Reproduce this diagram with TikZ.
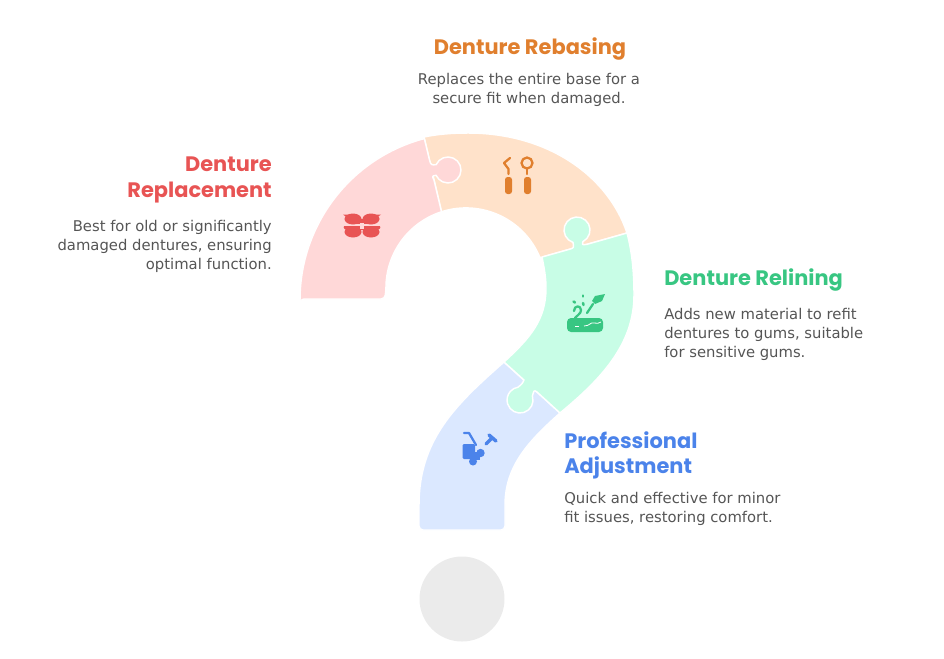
\documentclass[tikz,border=0pt]{standalone}
\usepackage{fontspec}
\setmainfont{DejaVu Sans}
\newfontfamily\headfont{Poppins}
\definecolor{pinkfill}{HTML}{FFD8D8}
\definecolor{orangefill}{HTML}{FFE2CA}
\definecolor{greenfill}{HTML}{C8FDE6}
\definecolor{bluefill}{HTML}{DBE8FF}
\definecolor{greyfill}{HTML}{EBEBEB}
\definecolor{redink}{HTML}{E85454}
\definecolor{orangeink}{HTML}{E07F2E}
\definecolor{greenink}{HTML}{38C682}
\definecolor{blueink}{HTML}{4B83EA}
\definecolor{bodyink}{HTML}{555555}
\tikzset{
  piece/.style={draw=white,line width=1.1pt,line join=round},
  heading/.style={font=\headfont\bfseries\fontsize{15.7}{18.8}\selectfont,inner sep=0pt},
  bodytext/.style={font=\fontsize{11.1}{14.2}\selectfont,text=bodyink,inner sep=0pt},
  toolstroke/.style={line width=1.7pt,line cap=round,line join=round}
}
\begin{document}
\begin{tikzpicture}[x=0.75pt,y=-0.75pt]
  \useasboundingbox (0,0) rectangle (944,658);

  % puzzle pieces
  \fill[orangefill,piece] (424,137) .. controls (438,134) and (453,133) .. (468,133)
    .. controls (550,133) and (609,178) .. (627,233) -- (540,257.7)
    arc (-22.2:-107.8:80) -- cycle;
  \fill[bluefill,piece] (504,362) -- (560,413) .. controls (530,440) and (505,465) .. (505,505)
    [rounded corners=3] -- (505,530) -- (419,530) [sharp corners] -- (419,505)
    .. controls (419,440) and (455,405) .. (504,362);
  \fill[pinkfill,piece] (300,300) arc (180:255.2:167) -- (429.5,160)
    .. controls (431,165) .. (436.1,164.7) arc (204:516:13)
    .. controls (432,176) .. (434,180) -- (441.5,211.8) arc (252.2:180:80)
    [rounded corners=3] -- (385,299) -- (300,299) [sharp corners] -- cycle;
  \fill[greenfill,piece] (542,257) -- (569,249.4) .. controls (574,248) .. (573,242.4)
    arc (108:423:13) .. controls (582,245) .. (587,244.3) -- (627,233)
    .. controls (632,252) and (634,272) .. (634,295)
    .. controls (634,345) and (600,380) .. (560,413) -- (537,392)
    .. controls (534,390) .. (532.4,396) arc (-18:261:13)
    .. controls (522,384) .. (524,380) -- (504,362)
    .. controls (530,338) and (546,320) .. (546,288)
    .. controls (546,277) and (544,267) .. (542,257);
  \fill[greyfill] (462,599) circle (42.5);

  % icons
  \begin{scope}[redink]
    \fill (353,219) ellipse (8.5 and 5.5);
    \fill (371,219) ellipse (8.5 and 5.5);
    \fill (353,219) rectangle (371,224);
    \fill (343,214.5) -- (352,214.5) -- (350,220) -- cycle;
    \fill (381,214.5) -- (372,214.5) -- (374,220) -- cycle;
    \fill[rounded corners=1] (343,226) -- (381,226) -- (379,230) -- (345,230) -- cycle;
    \fill (353,232) ellipse (8.5 and 5.5);
    \fill (371,232) ellipse (8.5 and 5.5);
    \fill[pinkfill] (360,223) rectangle (364,229);
  \end{scope}
  \begin{scope}[orangeink]
    \fill[rounded corners=2] (505,177) rectangle (512,194);
    \fill[rounded corners=2] (524,177) rectangle (531,194);
    \draw[toolstroke] (510,158) -- (504,163) -- (508.5,169) -- (508.5,174);
    \draw[toolstroke] (527,163) circle (5.5);
    \draw[toolstroke] (527,169) -- (527,174);
  \end{scope}
  \begin{scope}[greenink]
    \fill[rounded corners=3] (567,318) rectangle (603,332);
    \fill (595,296) -- (605,294) -- (602,301) -- (595,304) -- (592,301) -- cycle;
    \draw[toolstroke] (593,304) -- (587,313);
    \draw[toolstroke] (574,311) .. controls (574,305) and (581,305) .. (581,310) .. controls (581,314) and (577,315) .. (575,318);
    \draw[toolstroke,line width=1.9pt] (573.5,301.5) -- (575,302.5);
    \draw[toolstroke,line width=1.9pt] (583,295.5) -- (583,296.5);
    \draw[toolstroke,line width=1.9pt] (583,303) -- (583.5,305);
    \draw[white,line width=0.6pt] (575,326) -- (579,326);
    \draw[white,line width=0.6pt] (584,326) .. controls (590,326) and (590,322) .. (594,323) .. controls (597,324) and (599,323) .. (601,322);
  \end{scope}
  \begin{scope}[blueink]
    \draw[toolstroke] (464,433) -- (469,433) -- (476,445);
    \fill[rounded corners=1] (462.5,444) -- (475,444) -- (475,459) -- (462.5,459) -- cycle;
    \fill (480.5,453) circle (4.2);
    \fill (473,461.5) circle (4);
    \fill (473,452) rectangle (480,460);
    \draw[toolstroke,line width=2.6pt] (489,435) -- (496,441);
    \draw[toolstroke,line width=2.6pt] (492,438) -- (486,444);
  \end{scope}

  % labels
  \node[heading,text=orangeink,anchor=north] (rebasinghead) at (530,37) {Denture Rebasing};
  \node[bodytext,align=center,anchor=north] (rebasingtext) at (529,73) {Replaces the entire base for a\\secure fit when damaged.};
  \node[heading,text=redink,align=right,anchor=north east] (replacementhead) at (272,157) {Denture\\Replacement};
  \node[bodytext,align=right,anchor=north east] (replacementtext) at (272,220) {Best for old or significantly\\damaged dentures, ensuring\\optimal function.};
  \node[heading,text=greenink,anchor=north west] (reliningtitle) at (664,268) {Denture Relining};
  \node[bodytext,align=left,anchor=north west] (reliningtext) at (664,308) {Adds new material to refit\\dentures to gums, suitable\\for sensitive gums.};
  \node[heading,text=blueink,align=left,anchor=north west] (adjusthead) at (564,431) {Professional\\Adjustment};
  \node[bodytext,align=left,anchor=north west] (adjusttext) at (564,492) {Quick and effective for minor\\fit issues, restoring comfort.};
\end{tikzpicture}
\end{document}
